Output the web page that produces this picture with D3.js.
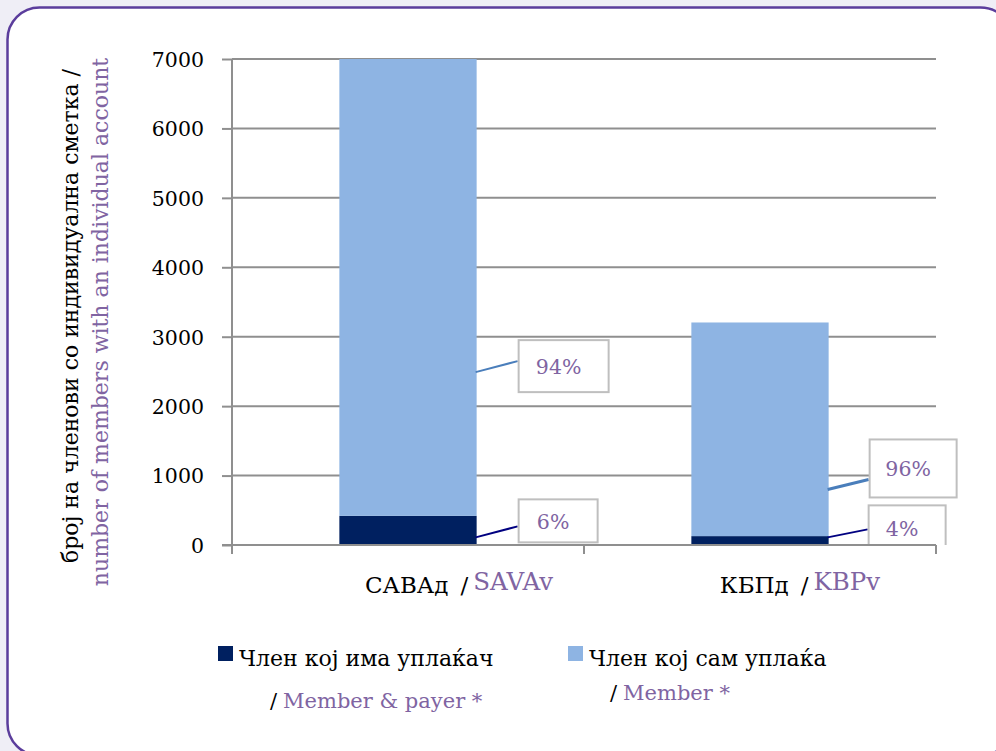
<!DOCTYPE html>
<html>
<head>
<meta charset="utf-8">
<script src="https://cdn.jsdelivr.net/npm/d3@7"></script>
<style>
  html, body { margin: 0; padding: 0; background: #efeef6; }
  svg { display: block; }
  text { font-family: "DejaVu Serif", serif; }
</style>
</head>
<body>
<div id="chart"></div>
<script>
// data
const categories = ["САВАд", "КБПд"];
const categoriesEn = ["SAVAv", "KBPv"];
const payer = [420, 128];     // Член кој има уплаќач / Member & payer
const member = [6580, 3077];  // Член кој сам уплаќа / Member
const payerPct = ["6%", "4%"];
const memberPct = ["94%", "96%"];
const yTicks = [0, 1000, 2000, 3000, 4000, 5000, 6000, 7000];

const width = 996, height = 751;
const margin = {left: 232, right: 60, top: 59, bottom: 206};
const purple = "#8064a2";
const navy = "#002060";
const lightBlue = "#8eb4e3";
const gridColor = "#8f8f8f";

const svg = d3.select("#chart").append("svg")
    .attr("width", width)
    .attr("height", height);

// frame
svg.append("rect")
    .attr("x", 7.5).attr("y", 7.5)
    .attr("width", 1005).attr("height", 748)
    .attr("rx", 32).attr("ry", 32)
    .attr("fill", "#fff")
    .attr("stroke", "#5b3d9c")
    .attr("stroke-width", 2.5);

const x = d3.scaleBand()
    .domain(categories)
    .range([margin.left, width - margin.right])
    .padding(0);

const y = d3.scaleLinear()
    .domain([0, 7000])
    .range([height - margin.bottom, margin.top]);

const barW = x.bandwidth() * 0.39;

// gridlines
svg.append("g")
    .selectAll("line")
    .data(yTicks.slice(1))
    .join("line")
    .attr("x1", margin.left).attr("x2", width - margin.right)
    .attr("y1", d => y(d)).attr("y2", d => y(d))
    .attr("stroke", gridColor)
    .attr("stroke-width", 2);

// stacked bars
const stack = categories.map((c, i) => [
    {cat: c, y0: 0, y1: payer[i], color: navy},
    {cat: c, y0: payer[i], y1: payer[i] + member[i], color: lightBlue}
]).flat();

svg.append("g")
    .selectAll("rect")
    .data(stack)
    .join("rect")
    .attr("x", d => x(d.cat) + (x.bandwidth() - barW) / 2)
    .attr("width", barW)
    .attr("y", d => y(d.y1))
    .attr("height", d => y(d.y0) - y(d.y1))
    .attr("fill", d => d.color);

// y axis
const yAxis = svg.append("g")
    .attr("transform", `translate(${margin.left},0)`)
    .call(d3.axisLeft(y).tickValues(yTicks).tickSize(10).tickPadding(18).tickFormat(d3.format("d")));
yAxis.select(".domain").attr("stroke", gridColor).attr("stroke-width", 2)
    .attr("d", `M0,${y(0)}V${y(7000)}`);
yAxis.selectAll(".tick line").attr("stroke", gridColor).attr("stroke-width", 2);
yAxis.selectAll(".tick text")
    .attr("font-size", 20.5)
    .attr("fill", "#000")
    .attr("dy", "0.36em")
    .style("font-family", "'DejaVu Serif', serif");

// x axis (ticks between categories)
const xAxisG = svg.append("g");
xAxisG.append("line")
    .attr("x1", margin.left - 10).attr("x2", width - margin.right)
    .attr("y1", y(0)).attr("y2", y(0))
    .attr("stroke", gridColor).attr("stroke-width", 2);
const bounds = [margin.left, ...categories.map(c => x(c) + x.bandwidth())];
xAxisG.selectAll(".xt")
    .data(bounds)
    .join("line")
    .attr("x1", d => d).attr("x2", d => d)
    .attr("y1", y(0)).attr("y2", y(0) + 9)
    .attr("stroke", gridColor).attr("stroke-width", 2);

// category labels
const catLabelDx = [51, 40];
const catG = svg.append("g").selectAll("text")
    .data(categories)
    .join("text")
    .attr("x", (d, i) => x(d) + x.bandwidth() / 2 + catLabelDx[i])
    .attr("y", y(0) + 48)
    .attr("text-anchor", "middle")
    .attr("font-size", 23);
catG.append("tspan").attr("fill", "#000").text(d => d);
catG.append("tspan").attr("fill", "#000").attr("dx", 12).text("/");
catG.append("tspan").attr("fill", purple).attr("dx", 5).attr("dy", -3)
    .attr("font-size", 24.5).text((d, i) => categoriesEn[i]);

// data labels with leader lines
svg.append("clipPath").attr("id", "plotclip")
    .append("rect")
    .attr("x", margin.left).attr("y", 0)
    .attr("width", width - margin.left).attr("height", y(0));

const labels = [
    // anchor value on bar, box offset from bar edge, box size
    {i: 0, text: memberPct[0], v: 2490, color: "#4a7ebb", lw: 2, dx: 42, dy: -11, bw: 90, bh: 52, by: -21},
    {i: 0, text: payerPct[0],  v: 110,  color: "#000080", lw: 2, dx: 42, dy: -11, bw: 79, bh: 43, by: -27},
    {i: 1, text: memberPct[1], v: 800,  color: "#4a7ebb", lw: 3, dx: 41, dy: -10, bw: 87, bh: 58, by: -40},
    {i: 1, text: payerPct[1],  v: 110,  color: "#000080", lw: 2, dx: 40, dy: -8,  bw: 77, bh: 46, by: -24}
];

const lblG = svg.append("g").attr("clip-path", "url(#plotclip)");
labels.forEach(l => {
    const c = categories[l.i];
    const x0 = x(c) + (x.bandwidth() + barW) / 2 - 1;
    const y0 = y(l.v);
    const x1 = x0 + l.dx, y1 = y0 + l.dy;
    lblG.append("line")
        .attr("x1", x0).attr("y1", y0)
        .attr("x2", x1).attr("y2", y1)
        .attr("stroke", l.color).attr("stroke-width", l.lw);
    lblG.append("rect")
        .attr("x", x1 + 1).attr("y", y1 + l.by)
        .attr("width", l.bw).attr("height", l.bh)
        .attr("fill", "#fff")
        .attr("stroke", "#bfbfbf").attr("stroke-width", 2);
    lblG.append("text")
        .attr("x", x1 + 1 + l.bw / 2 - 5)
        .attr("y", y1 + l.by + l.bh / 2 + 8)
        .attr("text-anchor", "middle")
        .attr("font-size", 20.5)
        .attr("fill", purple)
        .text(l.text);
});
// redraw axis line over clipped label boxes
svg.append("line")
    .attr("x1", margin.left).attr("x2", width - margin.right)
    .attr("y1", y(0)).attr("y2", y(0))
    .attr("stroke", gridColor).attr("stroke-width", 2);

// y axis title
svg.append("text")
    .attr("transform", "translate(78,316) rotate(-90)")
    .attr("text-anchor", "middle")
    .attr("font-size", 22)
    .attr("fill", "#000")
    .text("број на членови со индивидуална сметка /");
svg.append("text")
    .attr("transform", "translate(108,322) rotate(-90)")
    .attr("text-anchor", "middle")
    .attr("font-size", 22)
    .attr("fill", purple)
    .text("number of members with an individual account");

// legend
const legendItems = [
    {label: "Член кој има уплаќач", en: "Member & payer *", color: navy, x: 218, enX: 270, enY: 708},
    {label: "Член кој сам уплаќа", en: "Member *", color: lightBlue, x: 568, enX: 610, enY: 700}
];
const lg = svg.append("g").selectAll("g")
    .data(legendItems)
    .join("g");
lg.append("rect")
    .attr("x", d => d.x).attr("y", 646)
    .attr("width", 15).attr("height", 15)
    .attr("fill", d => d.color);
lg.append("text")
    .attr("x", d => d.x + 21).attr("y", 666)
    .attr("font-size", 22)
    .attr("fill", "#000")
    .text(d => d.label);
const en = lg.append("text")
    .attr("x", d => d.enX).attr("y", d => d.enY)
    .attr("font-size", 21);
en.append("tspan").attr("fill", "#000").text("/");
en.append("tspan").attr("fill", purple).attr("dx", 6).text(d => d.en);
</script>
</body>
</html>
